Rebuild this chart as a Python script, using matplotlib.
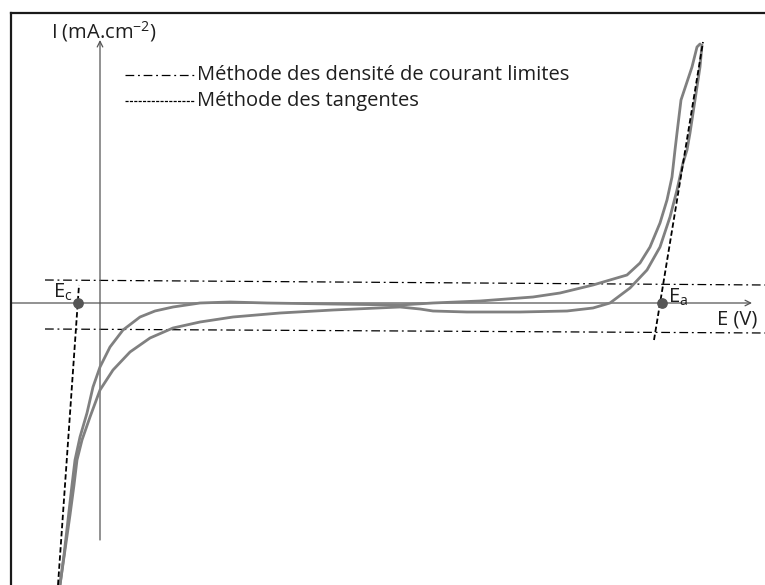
import matplotlib
matplotlib.use("Agg")
import matplotlib.pyplot as plt
from matplotlib.lines import Line2D

# Voltammogram branches (E in arbitrary units, I in mA.cm-2)
E_branch1 = [-0.40, -0.36, -0.32, -0.28, -0.25, -0.20, -0.13, -0.07, 0.00, 0.10,
             0.23, 0.40, 0.55, 0.73, 1.00, 1.30, 1.67, 2.30, 3.00, 3.33,
             3.80, 4.33, 4.60, 4.93, 5.27, 5.40, 5.50, 5.60, 5.67, 5.72,
             5.75, 5.77, 5.81, 5.87, 5.92, 5.97, 6.00]
I_branch1 = [-28.2, -25.2, -21.7, -18.2, -15.7, -13.4, -11.0, -8.4, -6.4, -4.4,
             -2.7, -1.4, -0.8, -0.4, 0.0, 0.1, 0.0, -0.1, -0.2, 0.0,
             0.2, 0.6, 1.0, 1.8, 2.8, 4.0, 5.6, 8.0, 10.3, 12.6,
             15.3, 17.0, 20.3, 22.1, 23.6, 25.6, 25.9]

E_branch2 = [-0.40, -0.35, -0.30, -0.26, -0.23, -0.18, -0.10, 0.00, 0.13, 0.30,
             0.50, 0.73, 1.00, 1.33, 1.80, 2.33, 3.00, 3.20, 3.33, 3.67,
             4.20, 4.67, 4.93, 5.10, 5.30, 5.47, 5.60, 5.70, 5.77, 5.83,
             5.87, 5.90, 5.95, 6.00, 6.02]
I_branch2 = [-28.2, -24.7, -21.2, -18.2, -15.7, -13.7, -11.4, -8.7, -6.7, -4.9,
             -3.5, -2.5, -1.9, -1.4, -1.0, -0.7, -0.4, -0.6, -0.8, -0.9,
             -0.9, -0.8, -0.5, 0.0, 1.5, 3.3, 5.6, 8.6, 11.3, 14.0,
             15.3, 17.0, 20.3, 23.6, 25.8]

# Limit current density lines (start/end points)
E_lim = [-0.55, 6.65]
I_lim_anodic = [2.3, 1.8]
I_lim_cathodic = [-2.6, -3.0]

# Tangent lines
E_tan_c = [-0.42, -0.21]
I_tan_c = [-28.2, 1.8]
E_tan_a = [5.54, 6.03]
I_tan_a = [-3.7, 26.1]

# Characteristic potentials
E_points = [-0.22, 5.62]
point_labels = [r"E$_\mathrm{c}$", r"E$_\mathrm{a}$"]

plt.rcParams["font.family"] = ["Open Sans", "DejaVu Sans"]
plt.rcParams["mathtext.fontset"] = "custom"
plt.rcParams["mathtext.rm"] = "Open Sans"

fig = plt.figure(figsize=(7.65, 5.85), dpi=100)
ax = fig.add_axes([0, 0, 1, 1])
ax.set_xlim(-1.0, 6.65)
ax.set_ylim(-28.2, 30.3)
ax.axis("off")

txt = dict(fontsize=14.5, color="#1e1e1e")

# Outer frame (left and top edges only are visible)
fig.add_artist(Line2D([11 / 765, 11 / 765], [0, 1 - 13 / 585], color="#1a1a1a", lw=1.6))
fig.add_artist(Line2D([11 / 765, 1], [1 - 13 / 585, 1 - 13 / 585], color="#1a1a1a", lw=1.6))

# Axes with open arrow heads
ax.annotate("", xy=(6.52, 0), xytext=(-0.89, 0),
            arrowprops=dict(arrowstyle="->", color="#555555", lw=0.9, shrinkA=0, shrinkB=0))
ax.annotate("", xy=(0, 26.3), xytext=(0, -23.7),
            arrowprops=dict(arrowstyle="->", color="#555555", lw=0.9, shrinkA=0, shrinkB=0))
ax.text(6.17, -1.7, "E (V)", ha="left", va="center", **txt)
ax.text(-0.49, 27.1, r"I (mA.cm$^\mathrm{-2}$)", ha="left", va="center", **txt)

# Curves
for E, I in [(E_branch1, I_branch1), (E_branch2, I_branch2)]:
    ax.plot(E, I, color="#808080", lw=2.0, solid_capstyle="round",
            solid_joinstyle="round", zorder=3)

# Limit lines
dashdot = (0, (7, 3, 1.5, 3))
ax.plot(E_lim, I_lim_anodic, color="black", lw=0.9, linestyle=dashdot)
ax.plot(E_lim, I_lim_cathodic, color="black", lw=0.9, linestyle=dashdot)

# Tangents
ax.plot(E_tan_c, I_tan_c, color="black", lw=1.3, linestyle=(0, (3, 1.5)), zorder=4)
ax.plot(E_tan_a, I_tan_a, color="black", lw=1.3, linestyle=(0, (3, 1.5)), zorder=4)

# Ec / Ea points
ax.scatter(E_points, [0, 0], s=45, color="#555555", zorder=5)
ax.text(-0.47, 1.1, point_labels[0], ha="left", va="center", **txt)
ax.text(5.68, 0.6, point_labels[1], ha="left", va="center", **txt)

# Legend drawn by hand
ax.plot([0.25, 0.95], [22.8, 22.8], color="black", lw=0.9, linestyle=dashdot)
ax.text(0.97, 22.8, "Méthode des densité de courant limites", ha="left", va="center", **txt)
ax.plot([0.25, 0.95], [20.2, 20.2], color="black", lw=0.9, linestyle=(0, (2.5, 1)))
ax.text(0.97, 20.2, "Méthode des tangentes", ha="left", va="center", **txt)

plt.savefig("out.png", dpi=100)
plt.close()
